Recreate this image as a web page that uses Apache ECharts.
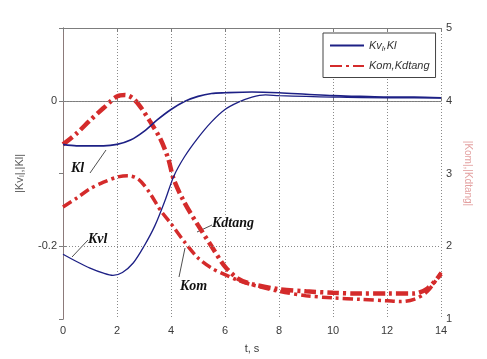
<!DOCTYPE html>
<html lang="en">
<head>
    <meta charset="UTF-8">
    <title>Kv, Kl, Kom, Kdtang vs t</title>
    <script src="https://cdn.jsdelivr.net/npm/echarts@6/dist/echarts.min.js"></script>
    <style>
        html, body, #chart {
            width: 487px;
            height: 359px;
            padding: 0;
            margin: 0;
            background: #fff;
        }
    </style>
</head>
<body>
<div id="chart"></div>
<script>
    // left axis series (|Kv_l|, |Kl|)
    var tKl = [0, 0.5, 1, 1.5, 2, 2.5, 3, 3.5, 4, 4.5, 5, 5.5, 6, 7, 8, 9, 10, 11, 12, 13, 14];
    var kl = [-0.060, -0.062, -0.062, -0.062, -0.060, -0.054, -0.042, -0.026, -0.012, -0.001, 0.006, 0.010, 0.011, 0.012, 0.011, 0.009, 0.007, 0.006, 0.005, 0.005, 0.004];

    var tKvl = [0, 0.5, 1, 1.5, 1.85, 2.2, 2.6, 3, 3.4, 3.8, 4.1, 4.5, 5, 5.5, 6, 6.5, 7, 7.5, 8, 9, 10, 12, 14];
    var kvl = [-0.211, -0.221, -0.230, -0.237, -0.240, -0.236, -0.223, -0.200, -0.172, -0.135, -0.104, -0.077, -0.051, -0.029, -0.012, -0.002, 0.005, 0.008, 0.007, 0.006, 0.005, 0.004, 0.004];

    // right axis series (|Kom|, |Kdtang|)
    var tKdt = [0, 0.5, 1, 1.5, 2, 2.3, 2.6, 2.9, 3.2, 3.6, 3.9, 4.1, 4.5, 5, 5.5, 6, 6.5, 7, 8, 9, 10, 11, 12, 13, 13.5, 14];
    var kdtang = [3.40, 3.55, 3.73, 3.90, 4.06, 4.08, 4.03, 3.90, 3.73, 3.48, 3.20, 2.92, 2.60, 2.29, 2.00, 1.72, 1.55, 1.48, 1.41, 1.38, 1.36, 1.35, 1.35, 1.35, 1.42, 1.62];

    var tKom = [0, 0.5, 1, 1.5, 2, 2.4, 2.8, 3.2, 3.6, 4, 4.5, 5, 5.5, 6, 6.5, 7, 8, 9, 10, 11, 12, 12.5, 13, 13.5, 14];
    var kom = [2.54, 2.66, 2.79, 2.88, 2.95, 2.97, 2.92, 2.74, 2.50, 2.31, 2.06, 1.84, 1.70, 1.61, 1.53, 1.47, 1.38, 1.32, 1.29, 1.27, 1.25, 1.24, 1.27, 1.38, 1.64];

    var leftTicks = [-0.2, 0];

    var nameBlue = "Kvl,Kl";
    var nameRed = "Kom,Kdtang";

    function pairs(ts, vs) {
        return ts.map(function (t, i) { return [t, vs[i]]; });
    }

    var blue = "#1d2085";
    var red = "#d42b2b";
    var frame = "#7d7d7d";
    var labelFont = {color: "#3a3a3a", fontSize: 11, fontFamily: "Liberation Sans"};

    var myChart = echarts.init(document.getElementById("chart"));

    myChart.setOption({
        animation: false,
        grid: {left: 63, top: 28, right: 46, bottom: 35},
        legend: {
            left: 323,
            top: 33,
            orient: "vertical",
            data: [nameBlue, nameRed],
            padding: [7, 6, 6, 6],
            itemGap: 8,
            itemWidth: 34,
            itemHeight: 8,
            itemStyle: {opacity: 0},
            borderColor: "#444",
            borderWidth: 1,
            borderRadius: 0,
            backgroundColor: "#fff",
            formatter: function (n) {
                return n === nameBlue ? "{a|Kv}{s|l}{a|,Kl}" : "{a|Kom,Kdtang}";
            },
            textStyle: {
                rich: {
                    a: {fontSize: 11, fontStyle: "italic", color: "#333", fontFamily: "Liberation Sans"},
                    s: {fontSize: 8, fontStyle: "italic", color: "#333", fontFamily: "Liberation Sans", verticalAlign: "bottom", padding: [6, 0, 0, 0]}
                }
            }
        },
        xAxis: [{
            type: "value",
            min: 0,
            max: 14,
            interval: 2,
            name: "t, s",
            nameLocation: "middle",
            nameGap: 24,
            nameTextStyle: labelFont,
            axisLine: {lineStyle: {color: frame}},
            axisTick: {inside: true, length: 4, lineStyle: {color: frame}},
            axisLabel: Object.assign({margin: 6}, labelFont),
            splitLine: {show: true, lineStyle: {color: "#8a8a8a", type: [1, 2], width: 1}}
        }, {
            type: "value",
            position: "top",
            min: 0,
            max: 14,
            interval: 2,
            axisLine: {show: true, lineStyle: {color: frame}},
            axisTick: {show: true, inside: true, length: 4, lineStyle: {color: frame}},
            axisLabel: {show: false},
            splitLine: {show: false}
        }],
        yAxis: [{
            type: "value",
            min: -0.3,
            max: 0.1,
            name: "|Kv\u2097|,|Kl|",
            nameLocation: "middle",
            nameGap: 38,
            nameTextStyle: {color: "#555", fontSize: 11, fontFamily: "Liberation Sans"},
            axisLine: {show: true, lineStyle: {color: frame}},
            axisTick: {show: true, inside: true, length: 4, customValues: leftTicks, lineStyle: {color: frame}},
            axisLabel: Object.assign({margin: 6, customValues: leftTicks, formatter: function (v) {
                return v === 0 ? "0" : String(Math.round(v * 10) / 10);
            }}, labelFont),
            splitLine: {show: false}
        }, {
            type: "value",
            min: 1,
            max: 5,
            interval: 1,
            position: "right",
            name: "|Kom|,|Kdtang|",
            nameLocation: "middle",
            nameGap: 20,
            nameRotate: -90,
            nameTextStyle: {color: "#e3a0a0", fontSize: 10, fontFamily: "Liberation Sans"},
            axisLine: {show: true, lineStyle: {color: "#8c7a7a"}},
            axisTick: {show: true, inside: true, length: 4, lineStyle: {color: frame}},
            axisLabel: Object.assign({margin: 5}, labelFont),
            splitLine: {show: false}
        }],
        series: [{
            name: nameBlue,
            type: "line",
            yAxisIndex: 0,
            data: pairs(tKl, kl),
            smooth: 0.3,
            symbol: "none",
            lineStyle: {color: blue, width: 1.6},
            itemStyle: {color: blue},
            z: 3,
            markLine: {
                silent: true,
                symbol: "none",
                label: {show: false},
                lineStyle: {color: "#8a8a8a", type: [1, 2], width: 1},
                data: leftTicks.map(function (v) { return {yAxis: v}; })
            }
        }, {
            name: nameBlue,
            type: "line",
            yAxisIndex: 0,
            data: pairs(tKvl, kvl),
            smooth: 0.3,
            symbol: "none",
            lineStyle: {color: blue, width: 1.3},
            itemStyle: {color: blue},
            z: 3
        }, {
            name: nameRed,
            type: "line",
            yAxisIndex: 1,
            data: pairs(tKdt, kdtang),
            smooth: 0.3,
            symbol: "none",
            lineStyle: {color: red, width: 4.5, type: [12, 4, 3, 4]},
            itemStyle: {color: red},
            z: 2
        }, {
            name: nameRed,
            type: "line",
            yAxisIndex: 1,
            data: pairs(tKom, kom),
            smooth: 0.3,
            symbol: "none",
            lineStyle: {color: red, width: 3.5, type: [10, 4, 3, 4]},
            itemStyle: {color: red},
            z: 2
        }],
        graphic: [
            // curve name annotations with leader lines
            {type: "text", left: 71, top: 161, style: {text: "Kl", font: "italic bold 14px 'Liberation Serif'", fill: "#111"}},
            {type: "line", shape: {x1: 90, y1: 173, x2: 106, y2: 150}, style: {stroke: "#222", lineWidth: 0.8}},
            {type: "text", left: 88, top: 232, style: {text: "Kvl", font: "italic bold 14px 'Liberation Serif'", fill: "#111"}},
            {type: "line", shape: {x1: 72, y1: 257, x2: 88, y2: 240}, style: {stroke: "#222", lineWidth: 0.8}},
            {type: "text", left: 212, top: 216, style: {text: "Kdtang", font: "italic bold 14px 'Liberation Serif'", fill: "#111"}},
            {type: "line", shape: {x1: 197, y1: 232, x2: 212, y2: 225}, style: {stroke: "#222", lineWidth: 0.8}},
            {type: "text", left: 180, top: 279, style: {text: "Kom", font: "italic bold 14px 'Liberation Serif'", fill: "#111"}},
            {type: "line", shape: {x1: 179, y1: 277, x2: 185, y2: 248}, style: {stroke: "#222", lineWidth: 0.8}}
        ]
    });
</script>
</body>
</html>
